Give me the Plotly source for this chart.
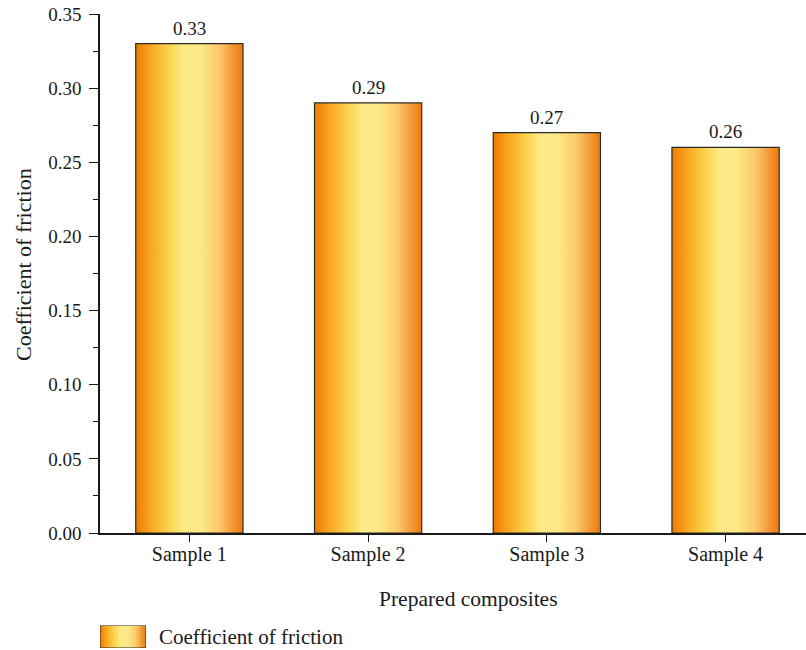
import plotly.graph_objects as go

# Friction data for the prepared composites
samples = ["Sample 1", "Sample 2", "Sample 3", "Sample 4"]
friction = [0.33, 0.29, 0.27, 0.26]
y_ticks = [0.00, 0.05, 0.10, 0.15, 0.20, 0.25, 0.30, 0.35]
series_name = "Coefficient of friction"

positions = list(range(1, len(samples) + 1))
bar_width = 0.6

# Horizontal orange -> pale yellow -> orange gradient used for each bar
gradient = [
    [0.00, "#EE7A00"],
    [0.12, "#F7A11C"],
    [0.30, "#FBD04A"],
    [0.45, "#FDEC86"],
    [0.60, "#FDE988"],
    [0.78, "#FBC96A"],
    [0.90, "#F49A38"],
    [1.00, "#EE7A08"],
]

FONT = "Liberation Serif"
INK = "#1a1a1a"
FS = 19

# Page geometry (pixels)
W, H = 806, 650
ML, MT = 100, 14
PW, PH = W - ML, H - MT          # paper area below the top margin
AXIS_BOTTOM = 533                # pixel row of the x axis


def px_x(p):
    return (p - ML) / PW


def px_y(p):
    return (H - p) / PH


fig = go.Figure()

for pos, val in zip(positions, friction):
    left = pos - bar_width / 2
    right = pos + bar_width / 2
    fig.add_trace(go.Scatter(
        x=[left, left, right, right, left],
        y=[0, val, val, 0, 0],
        mode="lines",
        fill="toself",
        fillgradient=dict(type="horizontal", colorscale=gradient, start=left, stop=right),
        line=dict(color="#2a2a2a", width=1.2),
        showlegend=False,
        hoverinfo="skip",
    ))

# Legend swatch drawn on a small inset axis
fig.add_trace(go.Scatter(
    x=[0, 0, 1, 1, 0],
    y=[0, 1, 1, 0, 0],
    mode="lines",
    fill="toself",
    fillgradient=dict(type="horizontal", colorscale=gradient, start=0, stop=1),
    line=dict(color="#2a2a2a", width=1),
    xaxis="x2",
    yaxis="y2",
    showlegend=False,
    hoverinfo="skip",
))

annotations = [
    dict(text=f"{v:.2f}", x=pos, y=v, xref="x", yref="y",
         xanchor="center", yanchor="bottom", yshift=3, showarrow=False,
         font=dict(family=FONT, size=FS, color=INK))
    for pos, v in zip(positions, friction)
]
annotations += [
    dict(text=series_name, xref="paper", yref="paper",
         x=px_x(23), y=px_y(265), xanchor="center", yanchor="middle",
         textangle=-90, showarrow=False, font=dict(family=FONT, size=22, color=INK)),
    dict(text="Prepared composites", xref="paper", yref="paper",
         x=px_x(469), y=px_y(599), xanchor="center", yanchor="middle",
         showarrow=False, font=dict(family=FONT, size=21.5, color=INK)),
    dict(text=series_name, xref="paper", yref="paper",
         x=px_x(157), y=px_y(637), xanchor="left", yanchor="middle",
         showarrow=False, font=dict(family=FONT, size=21, color=INK)),
]

fig.update_layout(
    width=W,
    height=H,
    autosize=False,
    margin=dict(l=ML, r=0, t=MT, b=0, pad=0),
    paper_bgcolor="white",
    plot_bgcolor="white",
    font=dict(family=FONT, size=FS, color=INK),
    showlegend=False,
    xaxis=dict(
        range=[0.5, 4.45],
        tickmode="array",
        tickvals=positions,
        ticktext=samples,
        showline=True,
        linecolor=INK,
        linewidth=1.5,
        ticks="outside",
        ticklen=7,
        tickcolor=INK,
        tickfont=dict(family=FONT, size=20, color=INK),
        ticklabelstandoff=-5,
        showgrid=False,
        zeroline=False,
        anchor="y",
        automargin=False,
    ),
    yaxis=dict(
        domain=[px_y(AXIS_BOTTOM), 1],
        range=[0, 0.35],
        tickmode="array",
        tickvals=y_ticks,
        tickformat=".2f",
        showline=True,
        linecolor=INK,
        linewidth=1.5,
        ticks="outside",
        ticklen=9,
        tickcolor=INK,
        tickfont=dict(family=FONT, size=FS, color=INK),
        ticklabelstandoff=4,
        minor=dict(tickvals=[t + 0.025 for t in y_ticks[:-1]], ticks="outside",
                   ticklen=5, tickcolor=INK, showgrid=False),
        showgrid=False,
        zeroline=False,
        anchor="x",
        automargin=False,
    ),
    xaxis2=dict(domain=[px_x(100), px_x(146)], range=[0, 1], visible=False,
                anchor="y2", fixedrange=True, automargin=False),
    yaxis2=dict(domain=[px_y(648), px_y(625.5)], range=[0, 1], visible=False,
                anchor="x2", fixedrange=True, automargin=False),
    annotations=annotations,
)

fig.write_html("out.html", config={"responsive": False})
